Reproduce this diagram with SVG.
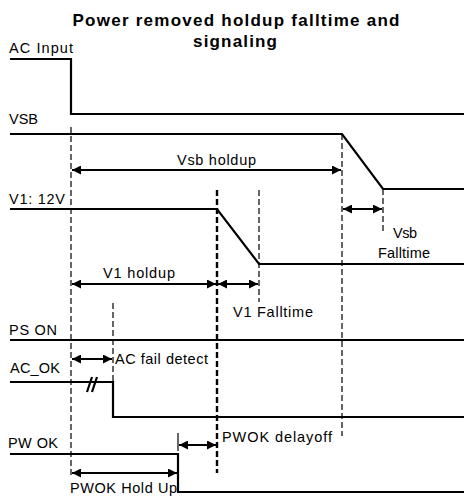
<svg xmlns="http://www.w3.org/2000/svg" width="464" height="498" viewBox="0 0 464 498">
<style>
.sig{fill:none;stroke:#000;stroke-width:2.2}
.dash{fill:none;stroke:#000;stroke-width:1.2;stroke-dasharray:6,3}
.dash2{fill:none;stroke:#000;stroke-width:2.4;stroke-dasharray:6,3}
.arr{stroke:#000;stroke-width:2;marker-start:url(#ah);marker-end:url(#ah)}
.lbl{font-family:"Liberation Sans",Arial,sans-serif;font-size:14.5px;fill:#000}
.ttl{font-family:"Liberation Sans",Arial,sans-serif;font-size:17px;font-weight:bold;fill:#000}
</style>
<defs>
<marker id="ah" viewBox="0 0 10 10" refX="10" refY="5" markerWidth="4.5" markerHeight="4.5" orient="auto-start-reverse" markerUnits="strokeWidth">
<path d="M0,0 L10,5 L0,10 z" fill="#000"/>
</marker>
</defs>
<rect width="464" height="498" fill="#fff"/>
<g id="title">
<text class="ttl" x="236" y="26" text-anchor="middle" textLength="327">Power removed holdup falltime and</text>
<text class="ttl" x="235" y="47" text-anchor="middle" textLength="84">signaling</text>
</g>
<g id="signals">
<g id="ac-input"><text class="lbl" x="9" y="53" textLength="64">AC Input</text><path class="sig" d="M10,59 H71 V114 H464"/></g>
<g id="vsb"><text class="lbl" x="9" y="124" textLength="29">VSB</text><path class="sig" d="M10,134 H342 L383,189 H464"/></g>
<g id="v1"><text class="lbl" x="9" y="204" textLength="56">V1: 12V</text><path class="sig" d="M10,209 H217 L259,264 H464"/></g>
<g id="ps-on"><text class="lbl" x="9" y="335" textLength="48">PS ON</text><path class="sig" d="M10,340 H464"/></g>
<g id="ac-ok"><text class="lbl" x="10" y="373" textLength="50">AC_OK</text><path class="sig" d="M10,382 H113 V417 H464"/><path class="sig" d="M87,392 L92,377 M92,392 L97,377"/></g>
<g id="pw-ok"><text class="lbl" x="8" y="448" textLength="50">PW OK</text><path class="sig" d="M10,454 H178 V492 H464"/></g>
</g>
<g id="connectors">
<path class="dash" d="M71,127 V478"/>
<path class="dash" d="M342,134 V436"/>
<path class="dash" d="M383,189 V232"/>
<path class="dash2" d="M217,190 V473"/>
<path class="dash" d="M259,190 V302"/>
<path class="dash" d="M113,303 V382"/>
<path fill="none" stroke="#000" stroke-width="1.2" d="M178,433 V451"/>
<line class="arr" x1="72" y1="170" x2="341" y2="170"/>
<line class="arr" x1="343" y1="209" x2="382" y2="209"/>
<line class="arr" x1="72" y1="284" x2="216" y2="284"/>
<line class="arr" x1="218" y1="284" x2="258" y2="284"/>
<line class="arr" x1="72" y1="359" x2="112" y2="359"/>
<line class="arr" x1="179" y1="445" x2="216" y2="445"/>
<line class="arr" x1="72" y1="473" x2="177" y2="473"/>
</g>
<g id="labels">
<text class="lbl" x="177" y="165" textLength="79">Vsb holdup</text>
<text class="lbl" x="393" y="238" textLength="24">Vsb</text>
<text class="lbl" x="378" y="258" textLength="52">Falltime</text>
<text class="lbl" x="103" y="278" textLength="72">V1 holdup</text>
<text class="lbl" x="233" y="317" textLength="80">V1 Falltime</text>
<text class="lbl" x="115" y="364" textLength="93">AC fail detect</text>
<text class="lbl" x="222" y="442" textLength="110">PWOK delayoff</text>
<text class="lbl" x="70" y="493" textLength="107">PWOK Hold Up</text>
</g>
</svg>
